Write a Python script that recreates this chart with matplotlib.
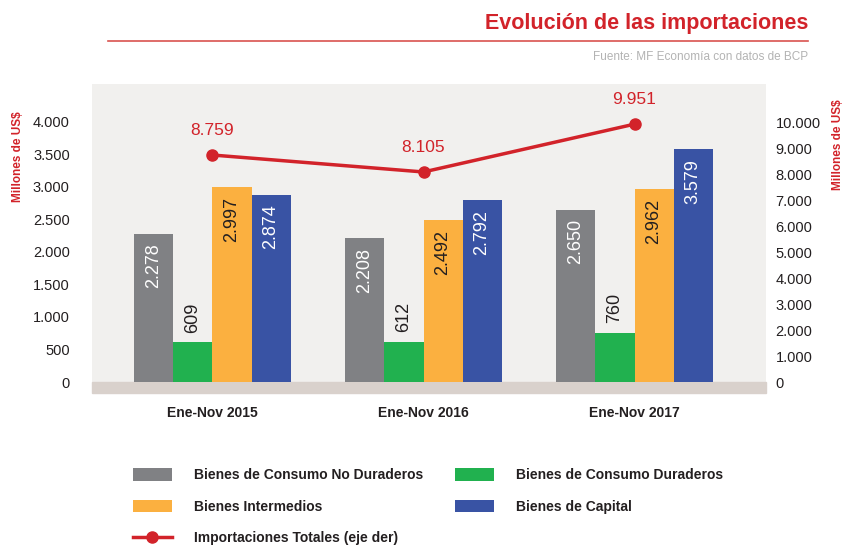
import numpy as np
import matplotlib.pyplot as plt
from matplotlib.patches import Rectangle

# Datos (millones de US$)
periodos = ['Ene-Nov 2015', 'Ene-Nov 2016', 'Ene-Nov 2017']
no_duraderos = [2278, 2208, 2650]
duraderos = [609, 612, 760]
intermedios = [2997, 2492, 2962]
capital = [2874, 2792, 3579]
totales = [8759, 8105, 9951]

series = [
    ('Bienes de Consumo No Duraderos', no_duraderos, '#808184', 'white', True),
    ('Bienes de Consumo Duraderos', duraderos, '#21b14f', '#231f20', False),
    ('Bienes Intermedios', intermedios, '#fbb040', '#231f20', True),
    ('Bienes de Capital', capital, '#3953a4', 'white', True),
]

plt.rcParams['font.family'] = ['Liberation Sans', 'DejaVu Sans']

ROJO = '#d2232a'
OSCURO = '#231f20'


def miles(v):
    return f'{v:,.0f}'.replace(',', '.')


W, H = 845, 545
fig = plt.figure(figsize=(W / 100, H / 100), dpi=100)

# ejes principales (px: x 92-766, y 84-382)
ax = fig.add_axes([92 / W, 1 - 382 / H, (766 - 92) / W, (382 - 84) / H])
ax.set_facecolor('#f1f0ee')
ax2 = ax.twinx()

x = np.arange(len(periodos))
ancho = 0.185
for i, (nombre, vals, color, col_txt, dentro) in enumerate(series):
    pos = x + (i - 1.5) * ancho
    barras = ax.bar(pos, vals, ancho, color=color, label=nombre, zorder=2)
    for b, v in zip(barras, vals):
        if dentro:
            ax.annotate(miles(v), (b.get_x() + b.get_width() / 2, v),
                        xytext=(0, -7), textcoords='offset points',
                        rotation=90, ha='center', va='top',
                        color=col_txt, fontsize=13, zorder=3)
        else:
            ax.annotate(miles(v), (b.get_x() + b.get_width() / 2, v),
                        xytext=(0, 7), textcoords='offset points',
                        rotation=90, ha='center', va='bottom',
                        color=col_txt, fontsize=13, zorder=3)

ax.set_xlim(-0.571, 2.623)
ax.set_ylim(0, 4580)
ax.set_yticks(np.arange(0, 4001, 500))
ax.set_yticklabels([miles(v) for v in np.arange(0, 4001, 500)])
ax.set_xticks(x)
ax.set_xticklabels(periodos, fontweight='bold')
ax.tick_params(axis='x', length=0, pad=17, labelsize=10, labelcolor=OSCURO)
ax.tick_params(axis='y', length=0, pad=16, labelsize=10.5, labelcolor=OSCURO)

# franja inferior
ax.add_patch(Rectangle((0, -0.037), 1, 0.037, transform=ax.transAxes,
                       color='#d9d1cc', clip_on=False, zorder=1))

linea, = ax2.plot(x, totales, color=ROJO, lw=2.5, marker='o', markersize=8,
                  label='Importaciones Totales (eje der)', zorder=4)
for xi, v in zip(x, totales):
    ax2.annotate(miles(v), (xi, v), xytext=(0, 12), textcoords='offset points',
                 ha='center', va='bottom', color=ROJO, fontsize=12.5)
ax2.set_ylim(0, 11500)
ax2.set_yticks(np.arange(0, 10001, 1000))
ax2.set_yticklabels([miles(v) for v in np.arange(0, 10001, 1000)])
ax2.tick_params(axis='y', length=0, pad=7, labelsize=10.5, labelcolor=OSCURO)

for a in (ax, ax2):
    for s in a.spines.values():
        s.set_visible(False)

# etiquetas de ejes
fig.text(18 / W, 1 - 157 / H, 'Millones de US$', rotation=90, color=ROJO,
         fontsize=8.5, fontweight='bold', ha='center', va='center')
fig.text(838 / W, 1 - 145 / H, 'Millones de US$', rotation=90, color=ROJO,
         fontsize=8.5, fontweight='bold', ha='center', va='center')

# titulo
fig.text(808 / W, 1 - 23 / H, 'Evolución de las importaciones', color=ROJO,
         fontsize=15.5, fontweight='bold', ha='right', va='center')
fig.add_artist(plt.Line2D([108 / W, 808 / W], [1 - 41 / H, 1 - 41 / H],
                          color='#d9534f', lw=1.2))
fig.text(808 / W, 1 - 57 / H, 'Fuente: MF Economía con datos de BCP',
         color='#b3b3b3', fontsize=8.5, ha='right', va='center')

# leyenda
h, l = ax.get_legend_handles_labels()
handles = [h[0], h[2], linea, h[1], h[3]]
labels = [l[0], l[2], linea.get_label(), l[1], l[3]]
leg = fig.legend(handles, labels, loc='upper left',
                 bbox_to_anchor=(133 / W, 1 - 468 / H), ncol=2, frameon=False,
                 borderpad=0, borderaxespad=0, handlelength=2.8,
                 handleheight=1.05, handletextpad=1.6, columnspacing=2.3,
                 labelspacing=1.25, prop={'size': 10, 'weight': 'bold'})
for t in leg.get_texts():
    t.set_color(OSCURO)

fig.savefig('out.png', dpi=100)
